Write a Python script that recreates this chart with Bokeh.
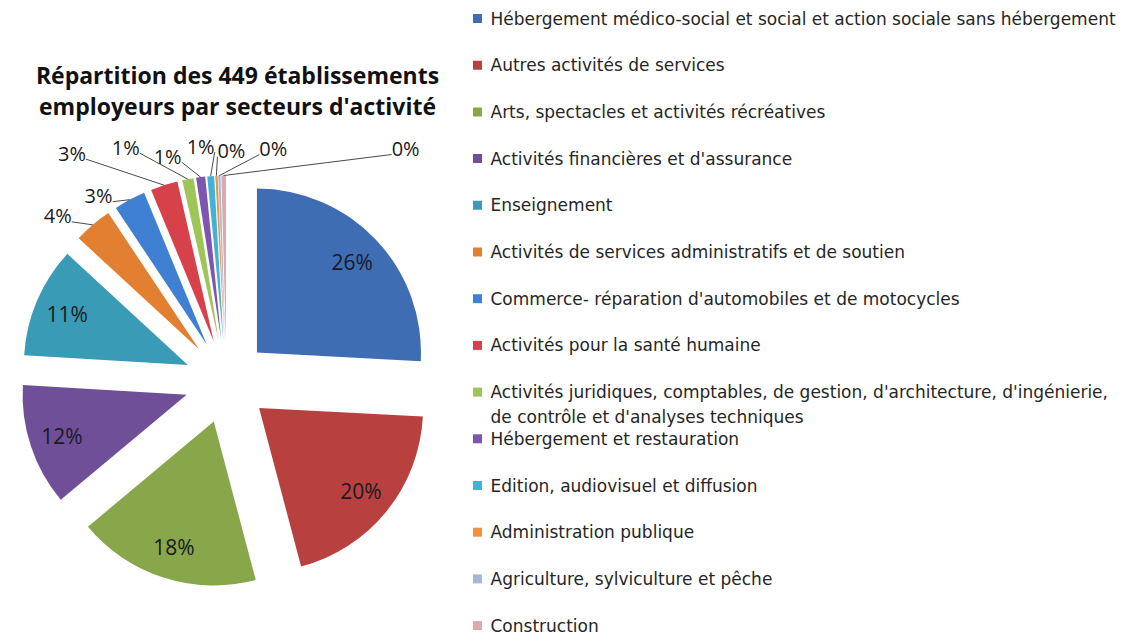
import math

from bokeh.plotting import figure
from bokeh.models import Range1d
from bokeh.core.properties import value
from bokeh.embed import file_html
from bokeh.resources import INLINE

# ---------------------------------------------------------------- data
title_lines = [
    "Répartition des 449 établissements",
    "employeurs par secteurs d'activité",
]

sectors = [
    "Hébergement médico-social et social et action sociale sans hébergement",
    "Autres activités de services",
    "Arts, spectacles et activités récréatives",
    "Activités financières et d'assurance",
    "Enseignement",
    "Activités de services administratifs et de soutien",
    "Commerce- réparation d'automobiles et de motocycles",
    "Activités pour la santé humaine",
    "Activités juridiques, comptables, de gestion, d'architecture, d'ingénierie,\nde contrôle et d'analyses techniques",
    "Hébergement et restauration",
    "Edition, audiovisuel et diffusion",
    "Administration publique",
    "Agriculture, sylviculture et pêche",
    "Construction",
]

# number of establishments per sector (449 in total)
counts = [116, 90, 81, 54, 49, 17, 14, 12, 5, 4, 3, 1, 1, 2]

colors = [
    "#3F6DB3", "#B8413F", "#87A74A", "#6F4F98", "#3A9BB6", "#E27F30",
    "#3F80D2", "#D6414A", "#9DC557", "#7E56B2", "#40B3D6", "#F5903C",
    "#A3B7D8", "#DCA8AA",
]

# ---------------------------------------------------------------- layout
W, H = 1133, 636
CX, CY = 226, H - 381        # pie centre
R = 164                      # slice radius
EXPLODE = 42                 # distance every slice is pulled out
INNER = 0.8                  # inside labels, fraction of the radius
N_INSIDE = 5                 # the first slices carry their label inside

# outside labels: offset of the text from the slice's outer arc (px, y up)
label_offsets = [
    (-35, 9), (-31, 4), (-92, 32), (-62, 32), (-33, 21),
    (-10, 30), (15, 25), (54, 27), (182, 27),
]

LEG_X = 477
LEG_Y0 = H - 18
LEG_STEP = 46.7
LEG_LINE = 24.5

p = figure(
    width=W, height=H,
    x_range=Range1d(0, W), y_range=Range1d(0, H),
    output_backend="svg", toolbar_location=None,
    min_border=0, x_axis_location=None, y_axis_location=None,
)
p.grid.visible = False
p.outline_line_color = None
p.background_fill_color = "white"
p.border_fill_color = "white"

total = sum(counts)
pct = [round(100 * c / total) for c in counts]

vx, vy, a_start, a_end, mids = [], [], [], [], []
angle = math.pi / 2
for c in counts:
    sweep = 2 * math.pi * c / total
    a0, a1 = angle - sweep, angle
    mid = (a0 + a1) / 2
    vx.append(CX + EXPLODE * math.cos(mid))
    vy.append(CY + EXPLODE * math.sin(mid))
    a_start.append(a0)
    a_end.append(a1)
    mids.append(mid)
    angle = a0

p.wedge(x=vx, y=vy, radius=R, start_angle=a_start, end_angle=a_end,
        direction="anticlock", fill_color=colors, line_color=None)

# labels inside the large slices
in_x = [vx[i] + INNER * R * math.cos(mids[i]) for i in range(N_INSIDE)]
in_y = [vy[i] + INNER * R * math.sin(mids[i]) for i in range(N_INSIDE)]
p.text(x=in_x, y=in_y, text=[f"{pct[i]}%" for i in range(N_INSIDE)],
       text_align="center", text_baseline="middle",
       text_font=value("Open Sans"), text_font_size="21px",
       text_color="#1a1a22")

# labels outside the small slices, with leader lines
out_x, out_y, out_t, lx, ly = [], [], [], [], []
for k, i in enumerate(range(N_INSIDE, len(counts))):
    ax = vx[i] + R * math.cos(mids[i])
    ay = vy[i] + R * math.sin(mids[i])
    dx, dy = label_offsets[k]
    tx, ty = ax + dx, ay + dy
    out_x.append(tx)
    out_y.append(ty)
    out_t.append(f"{pct[i]}%")
    side = 1 if dx <= 0 else -1
    lx.append([tx + side * 14, ax])
    ly.append([ty - 6, ay])

p.multi_line(xs=lx, ys=ly, line_color="#4a4a4a", line_width=1)
p.text(x=out_x, y=out_y, text=out_t, text_align="center",
       text_baseline="middle", text_font=value("Open Sans"),
       text_font_size="20px", text_color="#1a1a1a")

# title
p.text(x=[237, 237], y=[H - 74, H - 105], text=title_lines,
       text_align="center", text_baseline="middle",
       text_font=value("Open Sans"), text_font_style="bold",
       text_font_size="23px", text_color="#111111")

# legend
sq_y = [LEG_Y0 - i * LEG_STEP for i in range(len(sectors))]
p.rect(x=[LEG_X] * len(sectors), y=sq_y, width=9, height=9,
       fill_color=colors, line_color=None)
leg_x, leg_y, leg_t = [], [], []
for i, name in enumerate(sectors):
    for j, line in enumerate(name.split("\n")):
        leg_x.append(LEG_X + 13)
        leg_y.append(sq_y[i] - j * LEG_LINE)
        leg_t.append(line)
p.text(x=leg_x, y=leg_y, text=leg_t, text_align="left",
       text_baseline="middle", text_font=value("DejaVu Sans"),
       text_font_size="17px", text_color="#262626")

open("out.html", "w").write(file_html(p, INLINE))
